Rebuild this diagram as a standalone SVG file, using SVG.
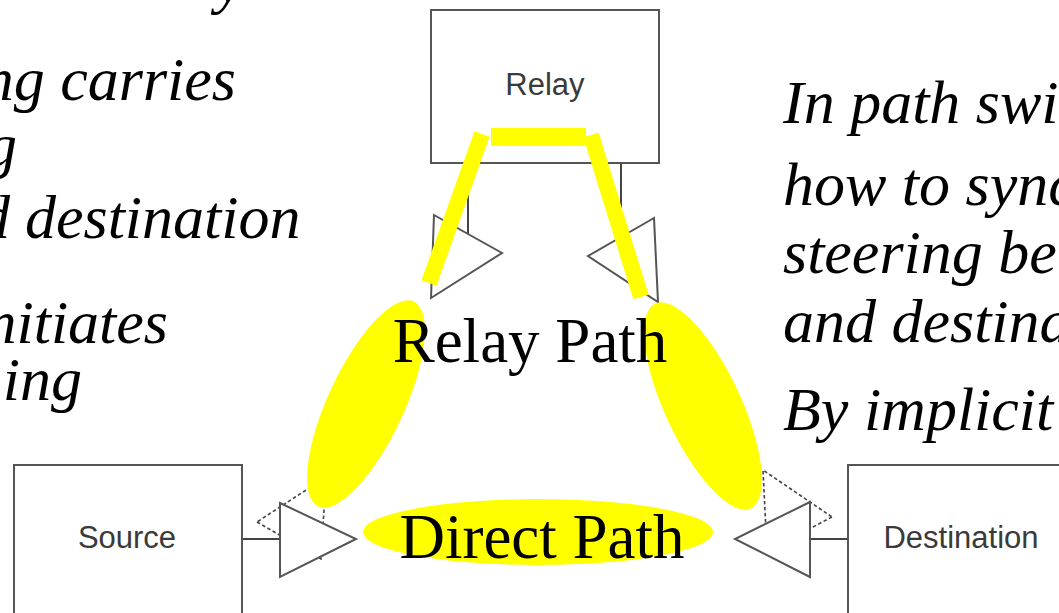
<svg xmlns="http://www.w3.org/2000/svg" width="1059" height="613" viewBox="0 0 1059 613">
<style>
.box{fill:#fff;stroke:#555;stroke-width:2}
.lbl{font-family:"Liberation Sans",Arial,sans-serif;font-size:31px;fill:#3a3a3a;text-anchor:middle}
.ant{fill:#fff;stroke:#555;stroke-width:2;stroke-linejoin:miter}
.dash{fill:none;stroke:#444;stroke-width:1.6;stroke-dasharray:3.5 2.5}
.wire{stroke:#444;stroke-width:2;fill:none}
.hl{fill:#ffff00}
.hlbar{stroke:#ffff00;stroke-width:16;fill:none}
.it{font-family:"Liberation Serif","Times New Roman",serif;font-style:italic;font-size:62px;fill:#000}
.path{font-family:"Liberation Serif","Times New Roman",serif;font-size:63px;fill:#000;text-anchor:middle}
</style>
<rect width="1059" height="613" fill="#fff"/>
<g id="text-left">
<text class="it" x="216" y="2">y</text>
<text class="it" x="236" y="100" text-anchor="end">ng carries</text>
<text class="it" x="-14" y="166">g</text>
<text class="it" y="238"><tspan x="-21">d</tspan><tspan x="25">destination</tspan></text>
<text class="it" x="168" y="343" text-anchor="end">nitiates</text>
<text class="it" x="82" y="400" text-anchor="end">ing</text>
</g>
<g id="text-right">
<text class="it" x="783" y="123">In path swi</text>
<text class="it" x="783" y="205">how to sync</text>
<text class="it" x="783" y="273">steering be</text>
<text class="it" x="783" y="342">and destina</text>
<text class="it" x="783" y="430">By implicit</text>
</g>
<g id="connectors">
<line class="wire" x1="468" y1="163" x2="468" y2="234"/>
<line class="wire" x1="621" y1="163" x2="621" y2="238"/>
<line class="wire" x1="242" y1="539" x2="280" y2="539"/>
<line class="wire" x1="810" y1="539" x2="848" y2="539"/>
</g>
<g id="relay">
<rect class="box" x="431" y="10" width="228" height="153"/>
<text class="lbl" x="545" y="95">Relay</text>
</g>
<g id="source">
<rect class="box" x="14" y="465" width="228" height="160"/>
<text class="lbl" x="127" y="548">Source</text>
</g>
<g id="destination">
<rect class="box" x="848" y="465" width="230" height="160"/>
<text class="lbl" x="961" y="548">Destination</text>
</g>
<g id="antennas">
<polygon class="dash" points="257,522 321,559 326,477"/>
<polygon class="dash" points="832,517 767,551 763,470"/>
<polygon class="ant" points="434,215 502,253 431,298"/>
<polygon class="ant" points="654,218 588,256 658,302"/>
<polygon class="ant" points="280,503 356,539 280,577"/>
<polygon class="ant" points="810,502 735,539 810,577"/>
</g>
<g id="highlights">
<rect class="hl" x="491" y="128" width="95" height="18"/>
<line class="hlbar" x1="482" y1="134" x2="429" y2="283"/>
<line class="hlbar" x1="591" y1="135" x2="641" y2="297"/>
<ellipse class="hl" cx="0" cy="0" rx="38" ry="113" transform="translate(366,404) rotate(25)"/>
<ellipse class="hl" cx="0" cy="0" rx="38" ry="113" transform="translate(703,406) rotate(-25)"/>
<ellipse class="hl" cx="538" cy="532" rx="175" ry="33"/>
</g>
<g id="labels">
<text class="path" x="530" y="362">Relay Path</text>
<text class="path" x="542" y="558">Direct Path</text>
</g>
</svg>
